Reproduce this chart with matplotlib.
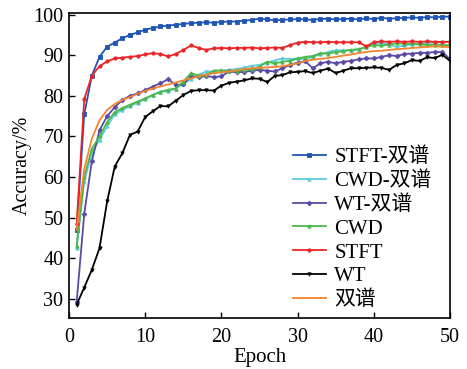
import matplotlib
matplotlib.use("Agg")
import matplotlib.pyplot as plt
import numpy as np

plt.rcParams['font.family'] = ['Liberation Serif', 'Noto Sans CJK SC']
plt.rcParams['mathtext.fontset'] = 'stix'

epochs = list(range(1, 51))

stft_bis = [47, 75.5, 85, 89.6, 92.1, 93.1, 94.2, 95, 95.6, 96.3,
            96.7, 97.1, 97.3, 97.5, 97.7, 97.9, 98.0, 98.1, 98.0, 98.2,
            98.3, 98.3, 98.5, 98.7, 99.0, 98.8, 98.6, 98.7, 98.8, 98.9,
            98.8, 98.7, 98.9, 99.0, 98.8, 98.9, 99.0, 98.8, 99.1, 98.9,
            99.2, 99.0, 99.1, 99.2, 99.3, 99.2, 99.4, 99.3, 99.5, 99.5]
cwd_bis = [42.5, 59, 66, 69.2, 72.5, 75.5, 76.5, 77.5, 78.3, 79.2,
           80.2, 81.0, 81.2, 81.8, 83.0, 84.2, 85.2, 86.0, 86.0, 86.2,
           86.4, 86.6, 87.0, 87.4, 87.6, 88.2, 88.7, 89.2, 89.0, 89.2,
           89.0, 89.6, 90.2, 90.8, 91.2, 91.2, 91.3, 91.4, 92.0, 92.9,
           93.0, 92.8, 92.0, 92.4, 92.6, 92.8, 93.0, 93.1, 93.2, 93.4]
wt_bis = [29.2, 51, 64, 71.5, 75, 77.2, 79, 80, 80.6, 81.4,
          82.3, 83.1, 84.1, 82.7, 82.8, 84.8, 84.6, 84.9, 84.6, 84.8,
          86.0, 85.8, 85.9, 86.2, 86.4, 86.2, 86.0, 86.8, 87.6, 88.2,
          88.5, 86.8, 88.0, 88.4, 88.0, 88.4, 88.6, 89.0, 89.2, 89.2,
          89.6, 90.0, 89.8, 90.3, 90.4, 90.6, 90.6, 90.8, 90.8, 89.0]
cwd = [43.1, 60, 67, 70, 73.5, 76, 77, 77.8, 78.6, 79.4,
       80.2, 81.0, 81.5, 81.8, 83.5, 85.6, 85.0, 85.2, 86.2, 86.3,
       86.0, 86.2, 86.4, 86.5, 87.2, 88.4, 88.0, 88.4, 88.6, 89.2,
       89.6, 89.8, 90.5, 90.4, 90.8, 91.0, 91.3, 91.5, 92.0, 92.5,
       92.4, 92.6, 93.0, 92.8, 92.9, 92.7, 92.5, 92.6, 92.5, 92.5]
stft = [48.4, 79.2, 85, 87.3, 88.5, 89.2, 89.4, 89.6, 89.8, 90.2,
        90.5, 90.3, 89.7, 90.3, 91.3, 92.4, 91.8, 91.3, 91.7, 91.8,
        91.7, 91.8, 91.8, 91.9, 91.7, 91.8, 91.9, 91.8, 92.5, 93.1,
        93.3, 93.2, 93.2, 93.3, 93.2, 93.2, 93.2, 93.2, 92.2, 93.2,
        93.4, 93.3, 93.4, 93.3, 93.4, 93.3, 93.4, 93.3, 93.3, 93.3]
wt = [28.6, 32.8, 37.2, 42.5, 54, 62.6, 65.9, 70.4, 71.2, 74.8,
      76.2, 77.5, 77.4, 78.8, 80.2, 81.2, 81.4, 81.4, 81.3, 82.5,
      83.2, 83.5, 83.8, 84.3, 84.2, 83.4, 84.9, 85.1, 85.8, 85.9,
      86.1, 85.6, 86.2, 86.7, 85.6, 86.2, 86.8, 86.8, 86.9, 87.0,
      86.9, 86.4, 87.6, 88.0, 88.8, 88.6, 89.5, 89.3, 90.1, 88.6]
bis = [47, 62, 69.5, 74, 76.5, 78, 79, 79.7, 80.5, 81.2,
       81.8, 82.3, 82.8, 83.3, 83.8, 84.3, 84.8, 85.2, 85.6, 85.8,
       86.0, 86.3, 86.6, 86.8, 86.9, 87.0, 87.1, 87.3, 87.6, 88.0,
       88.6, 88.9, 89.1, 89.3, 89.6, 89.9, 90.2, 90.5, 90.8, 91.0,
       91.1, 91.3, 91.5, 91.6, 91.8, 91.9, 92.1, 92.2, 92.1, 92.0]

labels = ['STFT-双谱', 'CWD-双谱', 'WT-双谱', 'CWD', 'STFT', 'WT', '双谱']
series = [stft_bis, cwd_bis, wt_bis, cwd, stft, wt, bis]
colors = ['#1f55b5', '#5ccbdc', '#5a4aa6', '#4cb848', '#ec2428', '#000000', '#f5832b']
markers = ['s', '^', 'D', '^', 'o', 'v', None]

fig = plt.figure(figsize=(4.67, 3.69), dpi=100)
ax = fig.add_axes([0.1478, 0.1382, 0.9636 - 0.1478, 0.9648 - 0.1382])

for s, lab, c, m in zip(series, labels, colors, markers):
    ax.plot(epochs, s, color=c, lw=1.3, marker=m, ms=2.4, mew=0.6, label=lab)

ax.set_xlim(0, 50)
ax.set_ylim(25.3, 100.4)
ax.set_xticks([0, 10, 20, 30, 40, 50])
ax.set_yticks([30, 40, 50, 60, 70, 80, 90, 100])
ax.tick_params(direction='in', length=4, width=1.0, labelsize=14.5, top=False, right=False)
ax.tick_params(axis='x', pad=7)
ax.tick_params(axis='y', pad=4)
for sp in ax.spines.values():
    sp.set_linewidth(1.2)

ax.set_xlabel('Epoch', fontsize=15, labelpad=1)
ax.set_ylabel('Accuracy/%', fontsize=14.5, labelpad=1)

ax.legend(loc='lower right', frameon=False, fontsize=15, handlelength=1.6,
          handletextpad=0.4, labelspacing=0.2, borderaxespad=0.3,
          bbox_to_anchor=(0.99, -0.022))

fig.savefig('out.png', dpi=100)
